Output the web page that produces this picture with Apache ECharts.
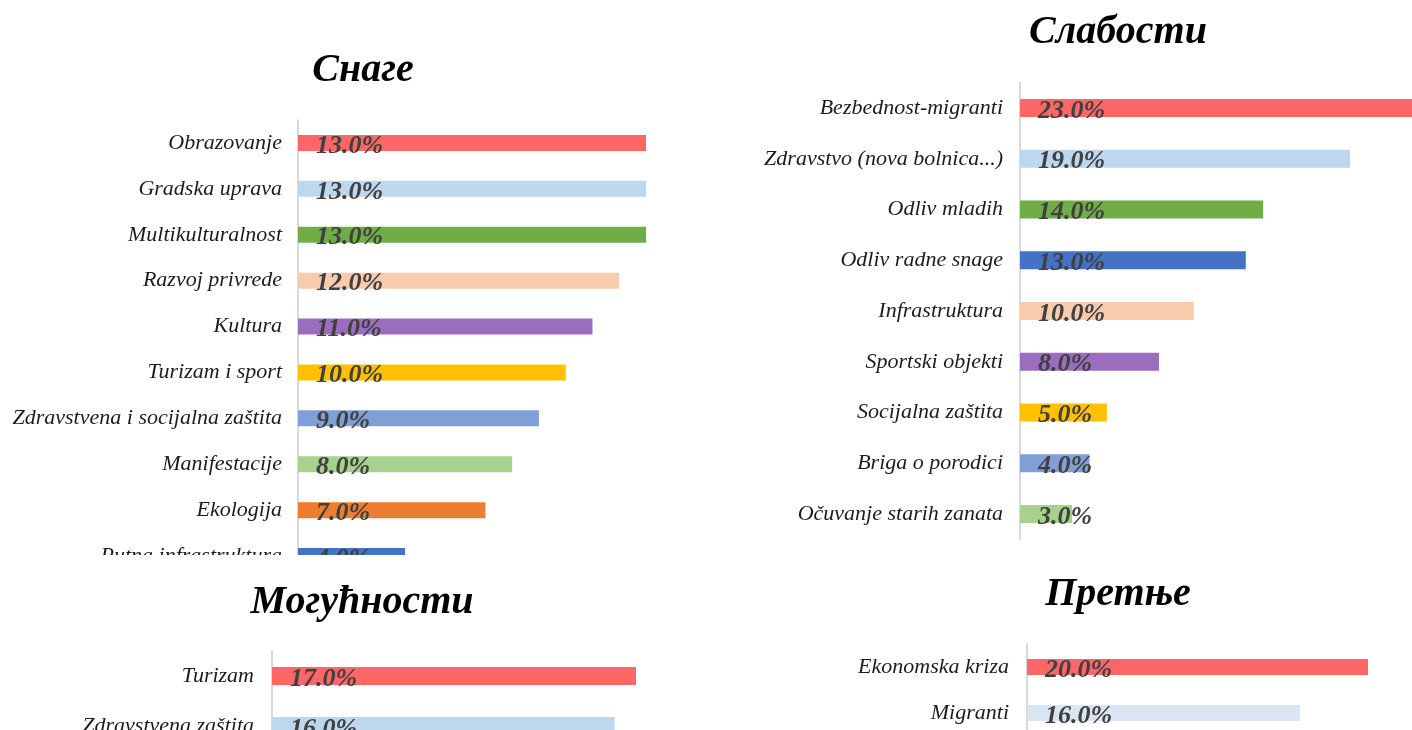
<!DOCTYPE html>
<html lang="en">
<head>
<meta charset="utf-8">
<title>SWOT</title>
<script src="https://cdn.jsdelivr.net/npm/echarts@6/dist/echarts.min.js"></script>
<style>
  html, body { margin: 0; padding: 0; background: #ffffff; width: 1412px; height: 730px; overflow: hidden; position: relative; }
  .panel { position: absolute; overflow: hidden; }
  .canvas { position: absolute; left: 0; top: 0; width: 900px; height: 800px; }
</style>
</head>
<body>
<div class="panel" style="left:0;top:0;width:706px;height:555px;"><div id="strengths" class="canvas"></div></div>
<div class="panel" style="left:706px;top:0;width:706px;height:560px;"><div id="weaknesses" class="canvas"></div></div>
<div class="panel" style="left:0;top:560px;width:706px;height:170px;"><div id="opportunities" class="canvas"></div></div>
<div class="panel" style="left:706px;top:560px;width:706px;height:170px;"><div id="threats" class="canvas"></div></div>
<script>
// Снаге
const strengthCategories = ['Obrazovanje', 'Gradska uprava', 'Multikulturalnost', 'Razvoj privrede', 'Kultura',
  'Turizam i sport', 'Zdravstvena i socijalna zaštita', 'Manifestacije', 'Ekologija', 'Putna infrastruktura'];
const strengthValues = [13, 13, 13, 12, 11, 10, 9, 8, 7, 4];

// Слабости
const weaknessCategories = ['Bezbednost-migranti', 'Zdravstvo (nova bolnica...)', 'Odliv mladih', 'Odliv radne snage',
  'Infrastruktura', 'Sportski objekti', 'Socijalna zaštita', 'Briga o porodici', 'Očuvanje starih zanata'];
const weaknessValues = [23, 19, 14, 13, 10, 8, 5, 4, 3];

// Могућности
const opportunityCategories = ['Turizam', 'Zdravstvena zaštita'];
const opportunityValues = [17, 16];

// Претње
const threatCategories = ['Ekonomska kriza', 'Migranti'];
const threatValues = [20, 16];

// bar fills, in category order
const strengthColors = ['#FF6666', '#BDD7EE', '#70AD47', '#F8CBAD', '#9A6DBE', '#FFC000', '#7F9FD6', '#A9D18E', '#ED7D31', '#4472C4'];
const weaknessColors = ['#FF6666', '#BDD7EE', '#70AD47', '#4472C4', '#F8CBAD', '#9A6DBE', '#FFC000', '#7F9FD6', '#A9D18E'];
const opportunityColors = ['#FF6666', '#BDD7EE'];
const threatColors = ['#FF6666', '#D9E5F2'];

const SERIF = '"Liberation Serif", "DejaVu Serif", serif';

function buildPanel(el, cfg) {
  const chart = echarts.init(document.getElementById(el), null, { renderer: 'canvas' });
  chart.setOption({
    animation: false,
    backgroundColor: '#ffffff',
    graphic: [{
      type: 'text',
      x: cfg.titleX,
      y: cfg.titleY,
      style: {
        text: cfg.title,
        font: 'italic bold 40px ' + SERIF,
        fill: '#000000',
        align: 'center',
        verticalAlign: 'middle'
      }
    }],
    grid: {
      left: cfg.left,
      top: cfg.top,
      width: cfg.max * cfg.unit,
      height: cfg.band * cfg.categories.length,
      containLabel: false
    },
    xAxis: {
      type: 'value',
      min: 0,
      max: cfg.max,
      show: false
    },
    yAxis: {
      type: 'category',
      inverse: true,
      data: cfg.categories,
      axisLine: { show: true, lineStyle: { color: '#d9d9d9', width: 2 } },
      axisTick: { show: false },
      splitLine: { show: false },
      axisLabel: {
        interval: 0,
        margin: cfg.margin,
        fontFamily: SERIF,
        fontStyle: 'italic',
        fontSize: 22,
        color: '#1c1c1c'
      }
    },
    series: [{
      type: 'bar',
      barWidth: cfg.barWidth,
      data: cfg.values.map((v, i) => ({ value: v, itemStyle: { color: cfg.colors[i] } })),
      label: {
        show: true,
        position: 'insideLeft',
        distance: 18,
        offset: [0, 3],
        formatter: p => p.value.toFixed(1) + '%',
        fontFamily: SERIF,
        fontStyle: 'italic',
        fontWeight: 'bold',
        fontSize: 26,
        color: '#404040'
      },
      emphasis: { disabled: true }
    }]
  });
  return chart;
}

buildPanel('strengths', {
  title: 'Снаге', titleX: 363, titleY: 71,
  categories: strengthCategories, values: strengthValues, colors: strengthColors,
  left: 298, top: 120, band: 45.9, unit: 348 / 13, max: 15, barWidth: 16, margin: 16
});

buildPanel('weaknesses', {
  title: 'Слабости', titleX: 412, titleY: 33,
  categories: weaknessCategories, values: weaknessValues, colors: weaknessColors,
  left: 314, top: 82.6, band: 50.75, unit: 330 / 19, max: 25, barWidth: 18, margin: 17
});

buildPanel('opportunities', {
  title: 'Могућности', titleX: 362, titleY: 43,
  categories: opportunityCategories, values: opportunityValues, colors: opportunityColors,
  left: 272, top: 91, band: 50, unit: 364 / 17, max: 20, barWidth: 18, margin: 18
});

buildPanel('threats', {
  title: 'Претње', titleX: 412, titleY: 35,
  categories: threatCategories, values: threatValues, colors: threatColors,
  left: 321, top: 84, band: 46, unit: 341 / 20, max: 25, barWidth: 16, margin: 18
});
</script>
</body>
</html>
